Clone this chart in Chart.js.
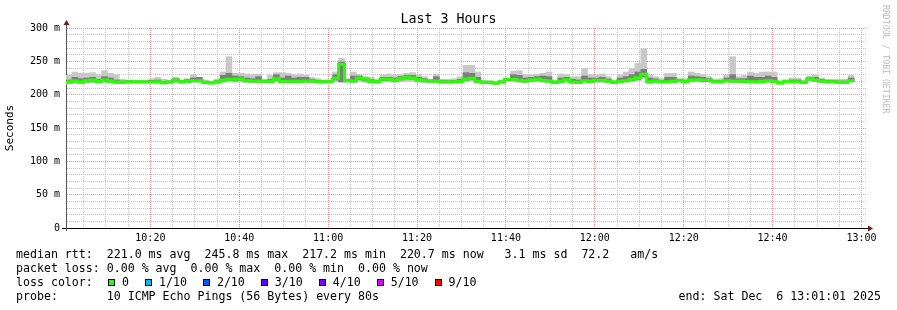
<!DOCTYPE html>
<html>
<head>
<meta charset="utf-8">
<title>Last 3 Hours</title>
<script src="https://cdn.jsdelivr.net/npm/chart.js@4.4.1/dist/chart.umd.min.js"></script>
<style>
    html, body { margin: 0; padding: 0; background: #fff; }
    #wrap { position: relative; width: 897px; height: 310px; overflow: hidden; font-family: 'DejaVu Sans Mono', monospace; color: #000; }
    #chart { position: absolute; left: 0; top: 0; }
    #title { position: absolute; left: 0; top: 11px; width: 897px; text-align: center; font-size: 13.3px; line-height: 16px; }
    #side { position: absolute; left: 881px; top: 5px; writing-mode: vertical-rl; font-size: 8.2px; line-height: 10px; color: #bdbdbd; white-space: pre; }
    .txt { position: absolute; white-space: pre; font-size: 11.6px; line-height: 14px; }
    #lossRow { position: absolute; left: 108px; top: 275px; height: 14px; display: flex; align-items: center; font-size: 11.6px; white-space: pre; }
    .box { width: 7px; height: 7px; border: 1px solid #000; box-sizing: border-box; margin-right: 7px; }
    .lbl { margin-right: 16px; }
</style>
</head>
<body>
<div id="wrap">
    <canvas id="chart" width="897" height="310"></canvas>
    <div id="title">Last 3 Hours</div>
    <div id="side">RRDTOOL / TOBI OETIKER</div>
    <div class="txt" style="left:16px;top:247px">median rtt:  221.0 ms avg  245.8 ms max  217.2 ms min  220.7 ms now   3.1 ms sd  72.2   am/s</div>
    <div class="txt" style="left:16px;top:261px">packet loss: 0.00 % avg  0.00 % max  0.00 % min  0.00 % now</div>
    <div class="txt" style="left:16px;top:275px">loss color:</div>
    <div id="lossRow"></div>
    <div class="txt" style="left:16px;top:289px">probe:       10 ICMP Echo Pings (56 Bytes) every 80s</div>
    <div class="txt" style="right:16px;top:289px">end: Sat Dec  6 13:01:01 2025</div>
</div>
<script>
// time axis in minutes since midnight, one sample every 80 s
const startTime = 601 + 1 / 60;   // 10:01:01
const endTime = 781 + 1 / 60;     // 13:01:01
const stepMinutes = 80 / 60;

// median rtt per sample (ms)
const medianRtt = [
    219, 221, 219, 221, 222, 220, 222, 220.5, 219, 218.5,
    219.5, 219, 219.5, 219, 219, 219.5, 218, 219, 222, 219.5,
    220, 221, 221, 218.5, 217.5, 219, 222, 223, 223, 223.5,
    221, 220.5, 220.5, 220, 220, 224, 220, 220, 220, 220,
    220.5, 220.5, 219.5, 219.5, 220, 224.5, 245.8, 221, 220.5, 225,
    223, 220, 219.5, 223, 223, 221.5, 224, 226, 225, 222.5,
    221, 220.5, 220.5, 219, 219, 219.5, 220, 223.5, 224.5, 220,
    218.5, 218.5, 217.2, 219, 223, 223, 221.5, 220.5, 222, 223,
    221.5, 220.5, 218.5, 220, 222.5, 219, 218.5, 221, 220, 221.5,
    221.5, 220.5, 218.5, 220, 221, 223, 225.5, 230.5, 219.5, 220.5,
    219.5, 219.5, 220, 221.5, 219.5, 222, 222.5, 221.5, 221.5, 219.5,
    219.5, 221, 220.5, 220.5, 220, 219.5, 219.5, 220, 221, 220,
    217.5, 220, 219.5, 219.5, 218.5, 224, 222, 220.5, 219.5, 219.5,
    218.5, 218.5, 220.7, null, null
];

// fastest and slowest ping per sample (ms)
const minRtt = [
    216, 217, 216.5, 217, 218, 217, 218, 217, 216.5, 216.5,
    217, 217, 217.5, 217, 217, 217, 216.5, 217, 218.5, 217,
    217.5, 218, 218, 216.5, 216, 217, 218.5, 219, 218.5, 219,
    218, 218, 217.5, 218, 217.5, 219, 217.5, 217.5, 217.5, 217.5,
    218, 218, 217.5, 217.5, 218, 219, 218, 218.5, 218, 219.5,
    218.5, 217.5, 217.5, 219, 219, 218.5, 219.5, 220, 220, 219,
    218, 218, 218, 217, 217, 217.5, 217.5, 219, 220, 217.5,
    216.5, 216.5, 215.5, 217, 219.5, 219.5, 218.5, 218, 219, 219.5,
    218.5, 218, 216.5, 217.5, 219, 217, 216.5, 218.5, 217.5, 218.5,
    218.5, 218, 216.5, 217.5, 218.5, 219.5, 221, 224, 217, 218,
    217.5, 217.5, 217.5, 219, 217.5, 219, 219.5, 218.5, 219, 217.5,
    217.5, 218.5, 218, 218, 217.5, 217.5, 217.5, 217.5, 218.5, 217.5,
    215.5, 218, 217.5, 217.5, 216.5, 220.5, 219.5, 218, 217.5, 217.5,
    216.5, 216.5, 218.5, null, null
];
const maxRtt = [
    229, 234, 232, 232, 233, 230, 236, 232, 230, 223,
    222, 222, 221, 222, 224, 226, 223, 222, 226, 222,
    224, 230, 226, 222, 220, 223, 234, 257, 232, 232,
    231, 230, 231, 223, 229, 233, 233, 232, 230, 231,
    229, 226, 224, 222, 222, 234, 254.5, 224, 234, 230,
    227, 226, 223, 230, 231, 229, 230, 232, 233, 230,
    227, 223, 231, 223, 223, 224, 227, 244, 244, 234,
    222, 221, 220, 222, 224, 235, 236, 230, 230, 231,
    232, 234, 222, 231, 230, 227, 227, 239, 230, 229,
    231, 227, 222, 230, 234, 239, 247, 269, 230, 227,
    224, 232, 232, 224, 224, 234, 232, 230, 227, 223,
    224, 230, 257, 227, 229, 234, 232, 234, 234, 234,
    220, 222, 225, 225, 222, 228, 230, 225, 223, 223,
    223, 223, 229, null, null
];

// darker smoke band around the median (ms)
const innerLo = [
    217.5, 219, 217.5, 219, 220, 218.5, 220, 219, 217.5, 217.5,
    218, 218, 218.5, 218, 218, 218, 217, 218, 220, 218,
    218.5, 219.5, 219.5, 217.5, 216.5, 218, 220, 221, 220.5, 221.5,
    219.5, 219, 219, 219, 218.5, 221.5, 218.5, 218.5, 218.5, 218.5,
    219, 219, 218.5, 218.5, 219, 222, 219.5, 219.5, 219, 222.5,
    220.5, 218.5, 218.5, 221, 221, 220, 222, 223.5, 223, 220.5,
    219.5, 219, 219, 218, 218, 218.5, 218.5, 221.5, 222.5, 218.5,
    217.5, 217.5, 216.5, 218, 221, 221.5, 220, 219, 220.5, 221,
    220, 219, 217.5, 218.5, 220.5, 218, 217.5, 219.5, 218.5, 220,
    220, 219, 217.5, 218.5, 219.5, 221, 223, 227, 218, 219,
    218.5, 218.5, 218.5, 220, 218.5, 220.5, 221, 219.5, 220, 218.5,
    218.5, 219.5, 219, 219, 218.5, 218.5, 218.5, 218.5, 219.5, 218.5,
    216.5, 219, 218.5, 218.5, 217.5, 222, 220.5, 219, 218.5, 218.5,
    217.5, 217.5, 219.5, null, null
];
const innerHi = [
    222, 226, 224, 225, 226, 223, 227, 225, 222, 220.5,
    221, 220.5, 220.5, 220.5, 221.5, 222, 220, 220.5, 224, 221,
    222.5, 225, 226, 220, 219, 221, 229, 232, 228, 227,
    225, 224, 227, 221.5, 223, 230, 225, 228, 225, 226,
    226, 223, 221.5, 221, 221, 230, 249, 222.5, 228, 228,
    225, 222.5, 221, 226, 226, 225, 227, 229, 229, 226,
    224, 222, 227, 221, 221, 221.5, 223, 233, 232, 226,
    220, 220, 218.5, 220.5, 224, 230, 229, 225, 226, 227,
    228, 227, 220, 225, 226, 223, 222, 228, 225, 225,
    226, 223.5, 220, 225, 227, 230, 234, 238, 225, 223.5,
    221.5, 226, 226, 223, 221.5, 228, 227, 226, 224, 221.5,
    221.5, 225, 230, 224, 224, 228, 226, 226, 228, 226,
    219, 221.5, 222, 222, 220, 226, 226, 223, 221.5, 221.5,
    220.5, 220.5, 225, null, null
];

const lossLabels = ['0', '1/10', '2/10', '3/10', '4/10', '5/10', '9/10'];
const lossColors = ['#26ff00', '#00b8ff', '#0059ff', '#5e00ff', '#7e00ff', '#dd00ff', '#ff0000'];

const FONT = "'DejaVu Sans Mono', monospace";
const MINOR_GRID = '#c4c4c4';
const MAJOR_GRID = '#ee9494';

// loss colour legend
const lossRow = document.getElementById('lossRow');
lossLabels.forEach((label, i) => {
    const box = document.createElement('span');
    box.className = 'box';
    box.style.background = lossColors[i];
    const txt = document.createElement('span');
    txt.className = 'lbl';
    txt.textContent = label;
    lossRow.appendChild(box);
    lossRow.appendChild(txt);
});

// build chart points from the arrays
const outerBars = [];
const innerBars = [];
const medianPts = [];
let lastIdx = -1;
medianRtt.forEach((m, i) => {
    if (m === null) return;
    const t0 = startTime + i * stepMinutes;
    outerBars.push({ x: t0 + stepMinutes / 2, y: [minRtt[i], maxRtt[i]] });
    innerBars.push({ x: t0 + stepMinutes / 2, y: [innerLo[i], innerHi[i]] });
    medianPts.push({ x: t0, y: m });
    lastIdx = i;
});
medianPts.push({ x: startTime + (lastIdx + 1) * stepMinutes, y: medianRtt[lastIdx] });

function fmtTime(v) {
    const h = Math.floor(v / 60);
    const m = Math.round(v % 60);
    return h + ':' + String(m).padStart(2, '0');
}

// little arrows at the end of both axes
const axisArrows = {
    id: 'axisArrows',
    afterDraw(chart) {
        const { ctx, chartArea: a } = chart;
        ctx.save();
        ctx.strokeStyle = '#000';
        ctx.lineWidth = 1;
        ctx.beginPath();
        ctx.moveTo(a.left - 4, a.bottom + 0.5);
        ctx.lineTo(a.left, a.bottom + 0.5);
        ctx.moveTo(a.right, a.bottom + 0.5);
        ctx.lineTo(a.right + 4, a.bottom + 0.5);
        ctx.stroke();
        ctx.strokeStyle = '#555';
        ctx.beginPath();
        ctx.moveTo(a.left + 0.5, a.top);
        ctx.lineTo(a.left + 0.5, a.top - 4);
        ctx.moveTo(a.left + 0.5, a.bottom);
        ctx.lineTo(a.left + 0.5, a.bottom + 3);
        ctx.stroke();
        ctx.fillStyle = '#7f1414';
        ctx.beginPath();
        ctx.moveTo(a.left - 2.5, a.top - 3);
        ctx.lineTo(a.left + 3.5, a.top - 3);
        ctx.lineTo(a.left + 0.5, a.top - 8);
        ctx.closePath();
        ctx.fill();
        ctx.beginPath();
        ctx.moveTo(a.right + 2, a.bottom - 2.5);
        ctx.lineTo(a.right + 2, a.bottom + 3.5);
        ctx.lineTo(a.right + 7, a.bottom + 0.5);
        ctx.closePath();
        ctx.fill();
        ctx.restore();
    }
};

new Chart(document.getElementById('chart'), {
    type: 'bar',
    data: {
        datasets: [
            {
                type: 'line',
                label: 'median',
                data: medianPts,
                stepped: 'before',
                borderColor: '#26ff00',
                borderWidth: 3,
                pointRadius: 0,
                fill: false,
                order: 0
            },
            {
                label: 'inner smoke',
                data: innerBars,
                backgroundColor: '#7d7d7d',
                borderWidth: 0,
                grouped: false,
                barPercentage: 1,
                categoryPercentage: 1,
                order: 1
            },
            {
                label: 'smoke',
                data: outerBars,
                backgroundColor: '#c8c8c8',
                borderWidth: 0,
                grouped: false,
                barPercentage: 1,
                categoryPercentage: 1,
                order: 2
            }
        ]
    },
    options: {
        responsive: false,
        animation: false,
        layout: { padding: { left: 0, top: 28, right: 31, bottom: 62 } },
        plugins: {
            legend: { display: false },
            tooltip: { enabled: false },
            title: { display: false }
        },
        scales: {
            x: {
                type: 'linear',
                min: startTime,
                max: endTime,
                offset: false,
                grid: {
                    offset: false,
                    drawTicks: false,
                    color: (c) => (c.tick && c.tick.value % 20 === 0) ? MAJOR_GRID : MINOR_GRID
                },
                border: { color: '#000', width: 1, dash: [1, 1] },
                ticks: {
                    autoSkip: false,
                    maxRotation: 0,
                    padding: 4,
                    color: '#000',
                    font: { family: FONT, size: 10 },
                    callback: (v) => v % 20 === 0 ? fmtTime(v) : ''
                },
                afterBuildTicks: (scale) => {
                    const ticks = [];
                    for (let m = 605; m <= 780; m += 5) ticks.push({ value: m });
                    scale.ticks = ticks;
                },
                afterFit: (scale) => {
                    scale.height = 20;
                    scale.paddingLeft = 0;
                    scale.paddingRight = 0;
                }
            },
            y: {
                min: 0,
                max: 300,
                grid: {
                    drawTicks: false,
                    color: (c) => {
                        if (!c.tick || c.tick.value === 0) return 'rgba(0,0,0,0)';
                        return c.tick.value % 50 === 0 ? MAJOR_GRID : MINOR_GRID;
                    }
                },
                border: { color: '#555', width: 1, dash: [1, 1] },
                ticks: {
                    stepSize: 10,
                    autoSkip: false,
                    padding: 6,
                    color: '#000',
                    font: { family: FONT, size: 10 },
                    callback: (v) => v % 50 !== 0 ? '' : (v === 0 ? '0' : v + ' m')
                },
                title: {
                    display: true,
                    text: 'Seconds',
                    color: '#000',
                    font: { family: FONT, size: 11 },
                    padding: { top: 4, bottom: 0 }
                },
                afterFit: (scale) => {
                    scale.width = 66;
                    scale.paddingTop = 0;
                    scale.paddingBottom = 0;
                }
            }
        }
    },
    plugins: [axisArrows]
});
</script>
</body>
</html>
